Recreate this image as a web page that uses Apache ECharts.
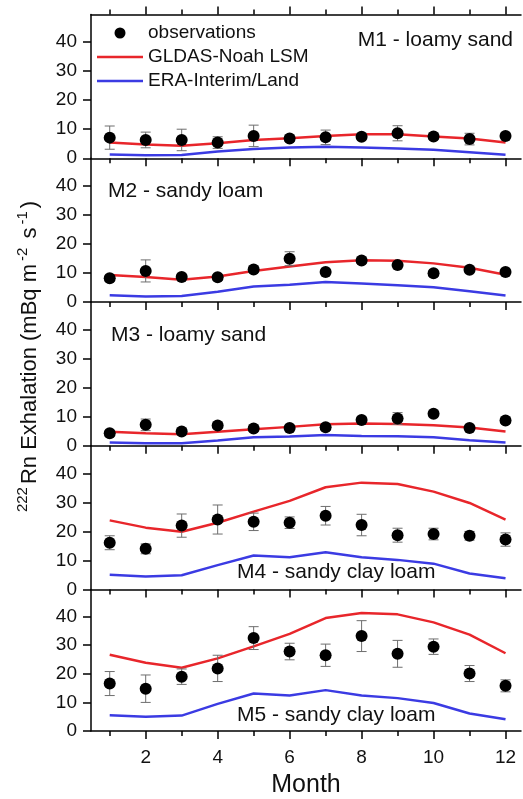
<!DOCTYPE html>
<html>
<head>
<meta charset="utf-8">
<script src="https://cdn.jsdelivr.net/npm/echarts@6/dist/echarts.min.js"></script>
<style>
html,body{margin:0;padding:0;background:#fff;}
#chart{width:523px;height:799px;}
</style>
</head>
<body>
<div id="chart"></div>
<script>
// ---- data ----
const months = [1,2,3,4,5,6,7,8,9,10,11,12];
const xMajorTicks = [2,4,6,8,10,12];
const xMinorTicks = [1,3,5,7,9,11];
const yTicks = [0,10,20,30,40];
const panelLabels = ['M1 - loamy sand','M2 - sandy loam','M3 - loamy sand','M4 - sandy clay loam','M5 - sandy clay loam'];
const seriesNames = ['observations','GLDAS-Noah LSM','ERA-Interim/Land'];

const m1Obs   = [7.1,6.3,6.3,5.4,7.7,6.8,7.2,7.4,8.6,7.5,6.6,7.7];
const m1Err   = [4.0,2.7,3.7,2.0,3.7,1.0,2.5,1.0,2.6,1.0,2.0,1.0];
const m1Gldas = [5.4,4.7,4.3,5.2,6.3,6.9,7.7,8.3,8.3,7.5,6.8,5.4];
const m1Era   = [1.3,1.0,1.1,2.3,3.2,3.7,4.0,3.7,3.4,2.9,2.1,1.2];

const m2Obs   = [8.2,10.7,8.6,8.5,11.2,14.9,10.3,14.3,12.7,9.9,11.1,10.3];
const m2Err   = [1.0,3.8,1.0,1.0,1.0,2.4,1.0,1.0,1.0,1.0,1.0,1.0];
const m2Gldas = [9.3,8.6,7.7,8.8,10.7,12.2,13.7,14.4,14.2,13.3,11.8,9.4];
const m2Era   = [2.3,1.9,2.1,3.5,5.3,5.9,6.9,6.4,5.8,5.1,3.7,2.2];

const m3Obs   = [4.3,7.2,4.9,7.0,5.9,6.1,6.4,8.9,9.4,11.0,6.1,8.7];
const m3Err   = [1.0,2.0,1.0,1.0,1.0,1.0,1.0,1.0,2.0,1.0,1.0,1.0];
const m3Gldas = [4.8,4.3,4.0,4.8,5.7,6.5,7.4,7.7,7.5,7.1,6.3,4.9];
const m3Era   = [1.1,0.9,0.9,1.8,2.9,3.2,3.7,3.4,3.3,2.9,1.9,1.1];

const m4Obs   = [16.1,14.0,22.0,24.1,23.3,23.0,25.4,22.2,18.7,19.1,18.5,17.2];
const m4Err   = [2.4,1.7,4.0,5.0,3.0,2.0,3.2,3.7,2.4,2.0,1.5,2.3];
const m4Gldas = [23.8,21.3,19.9,23.0,26.8,30.5,35.2,36.8,36.3,33.7,29.8,24.1];
const m4Era   = [5.1,4.5,4.9,8.4,11.7,11.1,12.8,11.1,10.2,8.9,5.5,3.9];

const m5Obs   = [16.6,14.8,19.0,21.9,32.5,27.8,26.5,33.2,27.0,29.5,20.1,15.8];
const m5Err   = [4.2,4.8,2.7,4.6,4.0,2.9,3.9,5.4,4.7,2.7,2.8,2.1];
const m5Gldas = [26.7,23.9,22.1,25.4,29.6,34.0,39.5,41.3,40.8,38.0,33.7,27.2];
const m5Era   = [5.5,5.0,5.4,9.5,13.1,12.4,14.3,12.4,11.5,9.8,6.1,4.1];

const panels = [
  {obs:m1Obs, err:m1Err, gldas:m1Gldas, era:m1Era},
  {obs:m2Obs, err:m2Err, gldas:m2Gldas, era:m2Era},
  {obs:m3Obs, err:m3Err, gldas:m3Gldas, era:m3Era},
  {obs:m4Obs, err:m4Err, gldas:m4Gldas, era:m4Era},
  {obs:m5Obs, err:m5Err, gldas:m5Gldas, era:m5Era}
];

// ---- layout / style ----
const FONT = 'Liberation Sans, Arial, sans-serif';
const RED = '#e8262b';
const BLUE = '#3b3be3';
const GRID_LEFT = 91, GRID_W = 430, PANEL_H = 143.75, FIRST_TOP = 14.5;
const X_MIN = 0.48, X_MAX = 12.43, Y_MAX = 49.5;
const LINE_ICON = 'path://M0,0L46,0L46,2.6L0,2.6Z';

const chart = echarts.init(document.getElementById('chart'));

const grids = [], xAxes = [], yAxes = [], series = [];
panels.forEach((p, i) => {
  const top = FIRST_TOP + i * PANEL_H;
  grids.push({left: GRID_LEFT, top: top, width: GRID_W, height: PANEL_H});
  const last = i === panels.length - 1;
  const mainIdx = xAxes.length;
  xAxes.push({
    type:'value', gridIndex:i, position:'bottom', min:X_MIN, max:X_MAX,
    axisLine:{show:true, onZero:false, lineStyle:{color:'#000', width:1.5}},
    axisTick:{show:true, inside:false, length:8, customValues:xMajorTicks, lineStyle:{color:'#000', width:1.5}},
    axisLabel:{show:last, customValues:xMajorTicks, margin:17, fontSize:19, color:'#111', fontFamily:FONT},
    splitLine:{show:false},
    name: last ? 'Month' : '', nameLocation:'middle', nameGap:42,
    nameTextStyle:{fontSize:25, color:'#111', fontFamily:FONT}
  });
  xAxes.push({
    type:'value', gridIndex:i, position:'bottom', min:X_MIN, max:X_MAX,
    axisLine:{show:false, onZero:false},
    axisTick:{show:true, inside:false, length:5, customValues:xMinorTicks, lineStyle:{color:'#000', width:1.5}},
    axisLabel:{show:false}, splitLine:{show:false}
  });
  if (i === 0) {
    xAxes.push({
      type:'value', gridIndex:i, position:'top', min:X_MIN, max:X_MAX,
      axisLine:{show:true, onZero:false, lineStyle:{color:'#000', width:1.5}},
      axisTick:{show:true, inside:false, length:8, customValues:xMajorTicks, lineStyle:{color:'#000', width:1.5}},
      axisLabel:{show:false}, splitLine:{show:false}
    });
    xAxes.push({
      type:'value', gridIndex:i, position:'top', min:X_MIN, max:X_MAX,
      axisLine:{show:false, onZero:false},
      axisTick:{show:true, inside:false, length:5, customValues:xMinorTicks, lineStyle:{color:'#000', width:1.5}},
      axisLabel:{show:false}, splitLine:{show:false}
    });
  }
  yAxes.push({
    type:'value', gridIndex:i, min:0, max:Y_MAX,
    axisLine:{show:true, onZero:false, lineStyle:{color:'#000', width:1.5}},
    axisTick:{show:true, inside:false, length:8, customValues:yTicks, lineStyle:{color:'#000', width:1.5}},
    axisLabel:{customValues:yTicks, margin:14, fontSize:19, color:'#111', fontFamily:FONT},
    splitLine:{show:false}
  });
  series.push({
    name: seriesNames[2], type:'line', xAxisIndex:mainIdx, yAxisIndex:i,
    data: months.map((m,k)=>[m, p.era[k]]), symbol:'none',
    lineStyle:{color:BLUE, width:2.5}, itemStyle:{color:BLUE}, z:2, silent:true
  });
  series.push({
    name: seriesNames[1], type:'line', xAxisIndex:mainIdx, yAxisIndex:i,
    data: months.map((m,k)=>[m, p.gldas[k]]), symbol:'none',
    lineStyle:{color:RED, width:2.5}, itemStyle:{color:RED}, z:2, silent:true
  });
  series.push({
    name:'err'+i, type:'custom', xAxisIndex:mainIdx, yAxisIndex:i,
    data: months.map((m,k)=>[m, p.obs[k], p.err[k]]),
    encode:{x:0, y:1}, clip:false, z:3, silent:true,
    renderItem: function(params, api){
      const x = api.value(0), y = api.value(1), e = api.value(2);
      const t = api.coord([x, y + e]), b = api.coord([x, y - e]);
      const hw = 5;
      const st = {stroke:'#6e6e6e', lineWidth:1};
      return {type:'group', children:[
        {type:'line', shape:{x1:t[0], y1:t[1], x2:b[0], y2:b[1]}, style:st},
        {type:'line', shape:{x1:t[0]-hw, y1:t[1], x2:t[0]+hw, y2:t[1]}, style:st},
        {type:'line', shape:{x1:b[0]-hw, y1:b[1], x2:b[0]+hw, y2:b[1]}, style:st}
      ]};
    }
  });
  series.push({
    name: seriesNames[0], type:'scatter', xAxisIndex:mainIdx, yAxisIndex:i,
    data: months.map((m,k)=>[m, p.obs[k]]), symbol:'circle', symbolSize:12,
    itemStyle:{color:'#000', opacity:1}, z:4, silent:true
  });
});

const graphics = [
  {type:'text', right: 523-513, top: 42-12, style:{text:panelLabels[0], font:'21px '+FONT, fill:'#111'}},
  {type:'text', left:108, top:193-12, style:{text:panelLabels[1], font:'21px '+FONT, fill:'#111'}},
  {type:'text', left:111, top:337-12, style:{text:panelLabels[2], font:'21px '+FONT, fill:'#111'}},
  {type:'text', left:237, top:574-12, style:{text:panelLabels[3], font:'21px '+FONT, fill:'#111'}},
  {type:'text', left:237, top:717-12, style:{text:panelLabels[4], font:'21px '+FONT, fill:'#111'}},
  {type:'text', x:28, y:358, rotation:Math.PI/2,
    style:{
      text:'{sup|222}{m|Rn Exhalation (mBq m}{sup|-2}{m| s}{sup|-1}{m|)}',
      align:'center', verticalAlign:'middle',
      rich:{
        m:{fontSize:22, fontFamily:FONT, fill:'#111', lineHeight:26, verticalAlign:'bottom'},
        sup:{fontSize:15, fontFamily:FONT, fill:'#111', lineHeight:26, verticalAlign:'top', padding:[0,3,0,3]}
      }
    }}
];

chart.setOption({
  animation:false,
  backgroundColor:'#fff',
  grid: grids, xAxis: xAxes, yAxis: yAxes, series: series,
  legend:{
    data:[
      {name:seriesNames[0], icon:'circle', itemStyle:{color:'#000', opacity:1}},
      {name:seriesNames[1], icon:LINE_ICON, itemStyle:{color:RED}},
      {name:seriesNames[2], icon:LINE_ICON, itemStyle:{color:BLUE}}
    ],
    orient:'vertical', left:97, top:23, padding:0, itemWidth:46, itemHeight:11, itemGap:4,
    textStyle:{fontSize:19, color:'#111', fontFamily:FONT, lineHeight:20},
    selectedMode:false
  },
  graphic: graphics
});
</script>
</body>
</html>
